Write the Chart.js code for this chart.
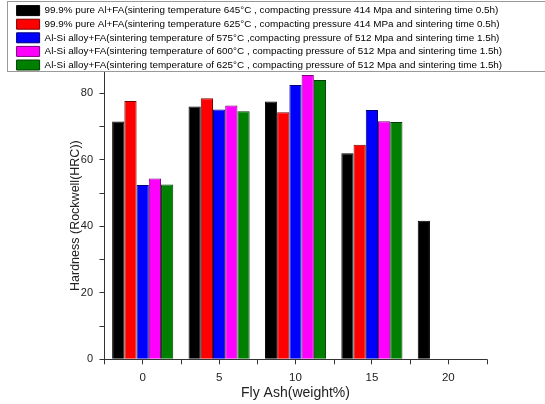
<!DOCTYPE html>
<html>
<head>
<meta charset="utf-8">
<script src="https://cdn.jsdelivr.net/npm/chart.js@4.4.1/dist/chart.umd.min.js"></script>
<style>
  html, body { margin: 0; padding: 0; background: #fff; }
  #wrap { width: 545px; height: 404px; }
</style>
</head>
<body>
<div id="wrap"><canvas id="hardness" width="545" height="404"></canvas></div>
<script>
// fly ash content (weight%)
const flyAsh = ['0', '5', '10', '15', '20'];

const seriesNames = [
    '99.9% pure Al+FA(sintering temperature 645°C , compacting pressure 414 Mpa and sintering time 0.5h)',
    '99.9% pure Al+FA(sintering temperature 625°C , compacting pressure 414 MPa and sintering time 0.5h)',
    'Al-Si alloy+FA(sintering temperature of 575°C ,compacting pressure of 512 Mpa and sintering time 1.5h)',
    'Al-Si alloy+FA(sintering temperature of 600°C , compacting pressure of 512 Mpa and sintering time 1.5h)',
    'Al-Si alloy+FA(sintering temperature of 625°C , compacting pressure of 512 Mpa and sintering time 1.5h)'
];

// hardness (HRC)
const pureAl645 = [71.5, 76.0, 77.5, 62.0, 41.7];
const pureAl625 = [77.7, 78.5, 74.3, 64.5, null];
const alSi575 = [52.4, 75.1, 82.5, 75.0, null];
const alSi600 = [54.4, 76.3, 85.5, 71.6, null];
const alSi625 = [52.6, 74.6, 84.0, 71.4, null];

const yLabels = [0, 20, 40, 60, 80];

const colors = ['#000000', '#ff0000', '#0000ff', '#ff00ff', '#008000'];
const edges = ['#000000', '#7a0000', '#00007a', '#7a007a', '#003a00'];

Chart.defaults.font.family = 'Arial, "Liberation Sans", sans-serif';
Chart.defaults.color = '#222';

// legend frame + minor ticks on x between the groups
const extras = {
    id: 'extras',
    afterDraw(chart) {
        const c = chart.ctx;
        const x = chart.scales.x;
        c.save();
        c.strokeStyle = '#333';
        c.lineWidth = 1;
        const n = flyAsh.length;
        const half = (x.getPixelForValue(1) - x.getPixelForValue(0)) / 2;
        for (let i = 0; i <= n; i++) {
            const px = Math.round(x.getPixelForValue(i) - half) + 0.5;
            c.beginPath();
            c.moveTo(px, x.top);
            c.lineTo(px, x.top + 5);
            c.stroke();
        }
        c.strokeStyle = '#999';
        c.strokeRect(7.5, 1.5, 560, 70);
        c.restore();
    }
};

const ctx = document.getElementById('hardness').getContext('2d');

const chart = new Chart(ctx, {
    type: 'bar',
    data: {
        labels: flyAsh,
        datasets: [
            { label: seriesNames[0], data: pureAl645 },
            { label: seriesNames[1], data: pureAl625 },
            { label: seriesNames[2], data: alSi575 },
            { label: seriesNames[3], data: alSi600 },
            { label: seriesNames[4], data: alSi625 }
        ].map((d, i) => Object.assign(d, {
            backgroundColor: colors[i],
            borderColor: edges[i],
            borderWidth: 1,
            categoryPercentage: 0.8,
            barPercentage: 1.0
        }))
    },
    options: {
        responsive: false,
        animation: false,
        devicePixelRatio: 1,
        layout: {
            padding: { left: 13, right: 0, top: 2, bottom: 0 }
        },
        plugins: {
            tooltip: { enabled: false },
            legend: {
                position: 'top',
                align: 'start',
                maxHeight: 70,
                labels: {
                    boxWidth: 23,
                    boxHeight: 10,
                    padding: 3.6,
                    color: '#000',
                    font: { size: 9.9 }
                }
            }
        },
        scales: {
            x: {
                offset: true,
                afterFit: s => { s.height = 44.7; },
                grid: {
                    offset: false,
                    drawOnChartArea: false,
                    drawTicks: true,
                    tickLength: 5,
                    color: '#333'
                },
                border: { display: true, color: '#333', width: 1 },
                ticks: {
                    padding: 6.8,
                    color: '#222',
                    font: { size: 11.5 }
                },
                title: {
                    display: true,
                    text: 'Fly Ash(weight%)',
                    color: '#222',
                    font: { size: 14 },
                    padding: { top: 0, bottom: 2 }
                }
            },
            y: {
                min: 0,
                max: 86.4,
                afterFit: s => { s.width = 91.5; },
                grid: {
                    drawOnChartArea: false,
                    drawTicks: true,
                    tickLength: 5,
                    color: '#333'
                },
                border: { display: true, color: '#333', width: 1 },
                ticks: {
                    stepSize: 10,
                    includeBounds: false,
                    padding: 6.5,
                    color: '#222',
                    font: { size: 11 },
                    callback: v => yLabels.includes(v) ? v : ''
                },
                title: {
                    display: true,
                    text: 'Hardness (Rockwell(HRC))',
                    color: '#222',
                    font: { size: 12.5 },
                    padding: { top: 55.5, bottom: 0 }
                }
            },
            // empty right-hand strip so the legend can use the full width
            spacer: {
                type: 'linear',
                position: 'right',
                display: true,
                afterFit: s => { s.width = 58.5; },
                grid: { display: false, drawTicks: false },
                border: { display: false },
                ticks: { display: false }
            }
        }
    },
    plugins: [extras]
});
</script>
</body>
</html>
